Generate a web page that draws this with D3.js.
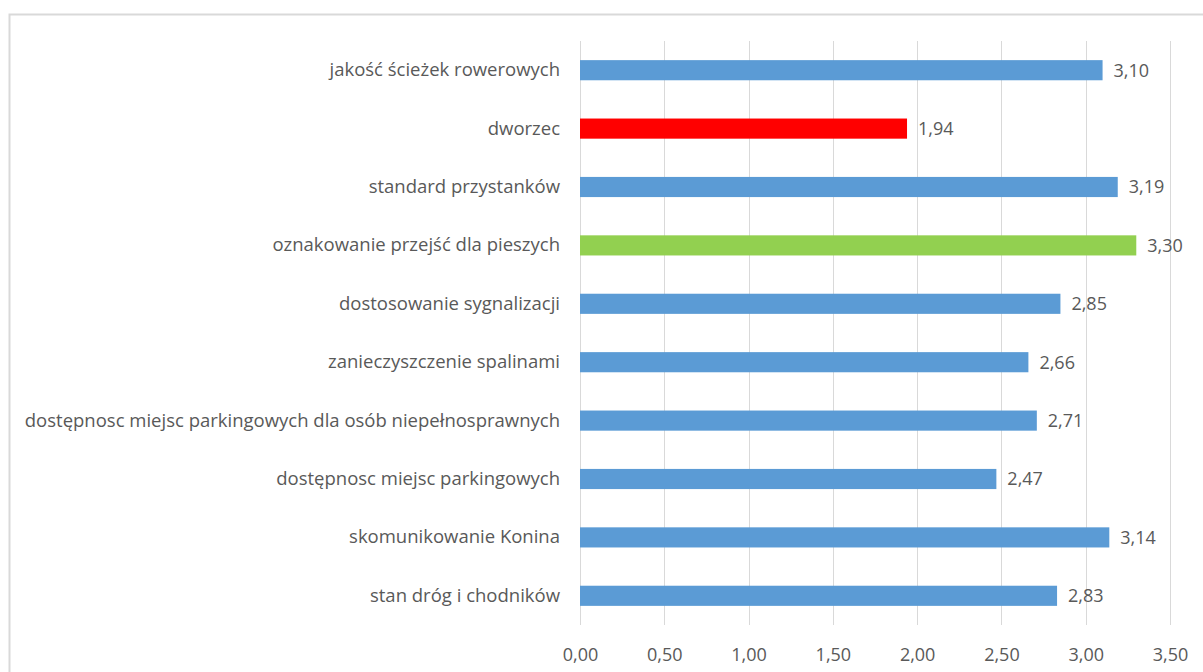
<!DOCTYPE html>
<html><head><meta charset="utf-8">
<script src="https://cdn.jsdelivr.net/npm/d3@7"></script>
<style>
html,body{margin:0;padding:0;background:#fff;}
svg{display:block;font-family:"Open Sans", sans-serif;}
</style></head>
<body><svg id="chart" width="1203" height="672"></svg>
<script>
const categories = [
  "jakość ścieżek rowerowych",
  "dworzec",
  "standard przystanków",
  "oznakowanie przejść dla pieszych",
  "dostosowanie sygnalizacji",
  "zanieczyszczenie spalinami",
  "dostępnosc miejsc parkingowych dla osób niepełnosprawnych",
  "dostępnosc miejsc parkingowych",
  "skomunikowanie Konina",
  "stan dróg i chodników"
];
const values = [3.10, 1.94, 3.19, 3.30, 2.85, 2.66, 2.71, 2.47, 3.14, 2.83];
const barColors = ["#5B9BD5","#FF0000","#5B9BD5","#92D050","#5B9BD5","#5B9BD5","#5B9BD5","#5B9BD5","#5B9BD5","#5B9BD5"];
const tickValues = [0, 0.5, 1, 1.5, 2, 2.5, 3, 3.5];

const svg = d3.select("#chart");
svg.append("path").attr("d","M9.5,672 V14.5 H1203").attr("fill","none").attr("stroke","#D9D9D9").attr("stroke-width",2);

const x = d3.scaleLinear().domain([0, 3.5]).range([580, 1170]);
const y = d3.scaleBand().domain(categories).range([41, 625]).paddingInner(190/290).paddingOuter(95/290);
const fmt = v => d3.format(".2f")(v).replace(".", ",");

svg.append("g").selectAll("line").data(tickValues).join("line")
  .attr("x1", d => Math.round(x(d)) + 0.5).attr("x2", d => Math.round(x(d)) + 0.5)
  .attr("y1", 41).attr("y2", 625)
  .attr("stroke", "#D9D9D9").attr("stroke-width", 1);

const labelSize = "18.5px", numSize = "18px";

const xAxis = d3.axisBottom(x).tickValues(tickValues).tickFormat(fmt).tickSize(0).tickPadding(0);
const gx = svg.append("g").attr("transform", "translate(0,648)").call(xAxis);
gx.select(".domain").remove();
gx.selectAll("text").attr("fill", "#595959").attr("font-size", numSize).attr("dy", "0.71em");

const yAxis = d3.axisLeft(y).tickSize(0).tickPadding(20);
const gy = svg.append("g").attr("transform", "translate(580,0)").call(yAxis);
gy.select(".domain").remove();
gy.selectAll("text").attr("fill", "#595959").attr("font-size", labelSize);
gx.attr("font-family", null); gy.attr("font-family", null);

svg.append("g").selectAll("rect").data(values).join("rect")
  .attr("x", x(0))
  .attr("y", (d, i) => y(categories[i]))
  .attr("width", d => x(d) - x(0))
  .attr("height", y.bandwidth())
  .attr("fill", (d, i) => barColors[i]);

svg.append("g").selectAll("text").data(values).join("text")
  .attr("x", d => x(d) + 11)
  .attr("y", (d, i) => y(categories[i]) + y.bandwidth() / 2)
  .attr("dy", "0.35em")
  .attr("fill", "#595959").attr("font-size", numSize)
  .text(fmt);
</script></body></html>
